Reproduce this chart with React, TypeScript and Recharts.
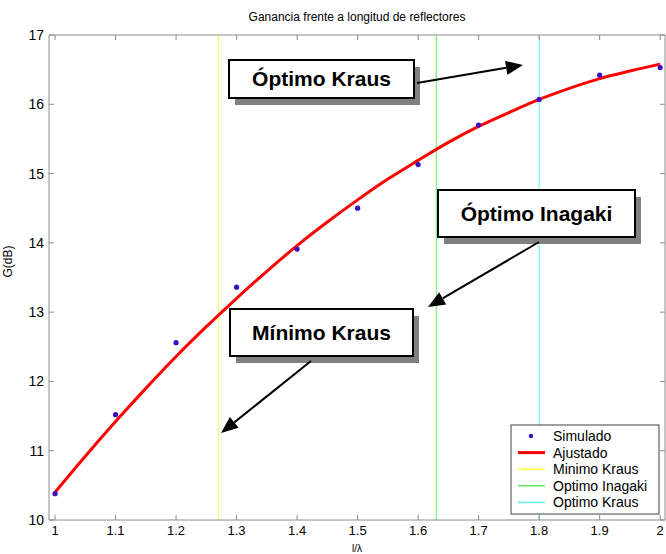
import { ComposedChart, Line, Scatter, XAxis, YAxis, ReferenceLine } from "recharts";

// simulated gain (dots)
const simX = [1, 1.1, 1.2, 1.3, 1.4, 1.5, 1.6, 1.7, 1.8, 1.9, 2.0];
const simG = [10.38, 11.52, 12.56, 13.36, 13.91, 14.5, 15.13, 15.7, 16.07, 16.42, 16.53];

// fitted curve (red)
const fitX = [1, 1.05, 1.1, 1.15, 1.2, 1.25, 1.3, 1.35, 1.4, 1.45, 1.5, 1.55, 1.6, 1.65, 1.7, 1.75, 1.8, 1.85, 1.9, 1.95, 2.0];
const fitG = [10.4, 10.92, 11.42, 11.9, 12.36, 12.79, 13.2, 13.59, 13.96, 14.3, 14.62, 14.92, 15.19, 15.45, 15.68, 15.88, 16.07, 16.23, 16.37, 16.48, 16.58];

const xTicks = [1, 1.1, 1.2, 1.3, 1.4, 1.5, 1.6, 1.7, 1.8, 1.9, 2];
const yTicks = [10, 11, 12, 13, 14, 15, 16, 17];

const minimoKraus = 1.27;
const optimoInagaki = 1.63;
const optimoKraus = 1.8;

const simData = simX.map((x, i) => ({ x, g: simG[i] }));
const fitData = fitX.map((x, i) => ({ x, g: fitG[i] }));

const W = 666;
const H = 554;
const font = "'Liberation Sans', Arial, sans-serif";
const xDomain: [number, number] = [0.99, 2.008];
const yDomain: [number, number] = [10, 17];
const frame = "#8c8c8c";

const blank = () => "";

function Arrow({ x1, y1, x2, y2 }: { x1: number; y1: number; x2: number; y2: number }) {
  const a = Math.atan2(y2 - y1, x2 - x1);
  const len = 17;
  const half = 7;
  const bx = x2 - len * Math.cos(a);
  const by = y2 - len * Math.sin(a);
  const px = -Math.sin(a) * half;
  const py = Math.cos(a) * half;
  return (
    <g>
      <line x1={x1} y1={y1} x2={bx} y2={by} stroke="#000" strokeWidth={2} />
      <polygon points={`${x2},${y2} ${bx + px},${by + py} ${bx - px},${by - py}`} fill="#000" />
    </g>
  );
}

function Note({ x, y, w, h, text }: { x: number; y: number; w: number; h: number; text: string }) {
  return (
    <g>
      <rect x={x + 6} y={y + 7} width={w} height={h} fill="#808080" />
      <rect x={x} y={y} width={w} height={h} fill="#fff" stroke="#000" strokeWidth={2} />
      <text x={x + w / 2} y={y + h / 2 + 7} textAnchor="middle" fontFamily={font} fontWeight="bold" fontSize={21} fill="#000">
        {text}
      </text>
    </g>
  );
}

const legendItems = [
  { label: "Simulado", kind: "dot", color: "#3a10c0" },
  { label: "Ajustado", kind: "line", color: "#ff0000", width: 3 },
  { label: "Minimo Kraus", kind: "line", color: "#ffff40", width: 1.5 },
  { label: "Optimo Inagaki", kind: "line", color: "#60ee60", width: 1.5 },
  { label: "Optimo Kraus", kind: "line", color: "#60eeee", width: 1.5 },
];

function Overlay() {
  const lx = 511;
  const ly = 425;
  return (
    <svg width={W} height={H} style={{ position: "absolute", left: 0, top: 0, pointerEvents: "none" }}>
      <Note x={229} y={60} w={185} h={38} text="Óptimo Kraus" />
      <Arrow x1={417} y1={83} x2={523} y2={65} />
      <Note x={438} y={190} w={197} h={47} text="Óptimo Inagaki" />
      <Arrow x1={539} y1={242} x2={428} y2={307} />
      <Note x={230} y={309} w={183} h={47} text="Mínimo Kraus" />
      <Arrow x1={311} y1={361} x2={221} y2={433} />

      <rect x={lx} y={ly} width={148} height={89} fill="#fff" stroke="#404040" strokeWidth={1} />
      {legendItems.map((it, i) => {
        const cy = ly + 11 + i * 16.6;
        return (
          <g key={it.label}>
            {it.kind === "dot" ? (
              <circle cx={lx + 20} cy={cy} r={2.2} fill={it.color} />
            ) : (
              <line x1={lx + 7} y1={cy} x2={lx + 34} y2={cy} stroke={it.color} strokeWidth={it.width} />
            )}
            <text x={lx + 42} y={cy + 5} fontFamily={font} fontSize={14} fill="#000">
              {it.label}
            </text>
          </g>
        );
      })}
    </svg>
  );
}

export default function App() {
  return (
    <div style={{ position: "absolute", left: 0, top: 0, width: W, height: H, background: "#fff" }}>
      <div
        style={{
          position: "absolute",
          left: 0,
          top: 10,
          width: W,
          textAlign: "center",
          paddingLeft: 48,
          fontFamily: font,
          fontSize: 12,
          color: "#000",
          boxSizing: "border-box",
        }}
      >
        Ganancia frente a longitud de reflectores
      </div>
      <ComposedChart width={W} height={H} margin={{ top: 35, right: 1, bottom: 0, left: 0 }}>
        <XAxis
          dataKey="x"
          type="number"
          domain={xDomain}
          allowDataOverflow
          ticks={xTicks}
          tickLine={false}
          tickSize={0}
          tickMargin={6}
          height={34}
          axisLine={{ stroke: frame }}
          tick={{ fill: "#000", fontSize: 13, fontFamily: font }}
          label={{ value: "l/λ", position: "insideBottom", offset: 2, fill: "#000", fontSize: 10, fontFamily: font }}
        />
        <XAxis
          xAxisId="bm"
          dataKey="x"
          type="number"
          orientation="bottom"
          mirror
          domain={xDomain}
          allowDataOverflow
          ticks={xTicks}
          tickSize={5}
          tickFormatter={blank}
          axisLine={false}
          tickLine={{ stroke: frame }}
        />
        <XAxis
          xAxisId="top"
          dataKey="x"
          type="number"
          orientation="top"
          mirror
          domain={xDomain}
          allowDataOverflow
          ticks={xTicks}
          tickSize={5}
          tickFormatter={blank}
          axisLine={{ stroke: frame }}
          tickLine={{ stroke: frame }}
        />
        <YAxis
          type="number"
          domain={yDomain}
          allowDataOverflow
          ticks={yTicks}
          width={49}
          tickLine={false}
          tickSize={0}
          tickMargin={5}
          axisLine={{ stroke: frame }}
          tick={{ fill: "#000", fontSize: 14, fontFamily: font }}
          label={{ value: "G(dB)", angle: -90, position: "insideLeft", offset: 8, fill: "#000", fontSize: 12, fontFamily: font }}
        />
        <YAxis
          yAxisId="lm"
          type="number"
          orientation="left"
          mirror
          domain={yDomain}
          allowDataOverflow
          ticks={yTicks}
          tickSize={5}
          tickFormatter={blank}
          axisLine={false}
          tickLine={{ stroke: frame }}
        />
        <YAxis
          yAxisId="right"
          type="number"
          orientation="right"
          mirror
          domain={yDomain}
          allowDataOverflow
          ticks={yTicks}
          tickSize={5}
          tickFormatter={blank}
          axisLine={{ stroke: frame }}
          tickLine={{ stroke: frame }}
        />
        <ReferenceLine x={minimoKraus} stroke="#ffff40" strokeWidth={1} />
        <ReferenceLine x={optimoInagaki} stroke="#60ee60" strokeWidth={1} />
        <ReferenceLine x={optimoKraus} stroke="#60eeee" strokeWidth={1} />
        <Line
          data={fitData}
          dataKey="g"
          type="monotone"
          stroke="#ff0000"
          strokeWidth={3}
          dot={false}
          isAnimationActive={false}
        />
        <Scatter
          data={simData}
          dataKey="g"
          fill="#3a10c0"
          shape={(p: any) => <circle cx={p.cx} cy={p.cy} r={2.6} fill="#3a10c0" />}
          isAnimationActive={false}
        />
      </ComposedChart>
      <Overlay />
    </div>
  );
}
